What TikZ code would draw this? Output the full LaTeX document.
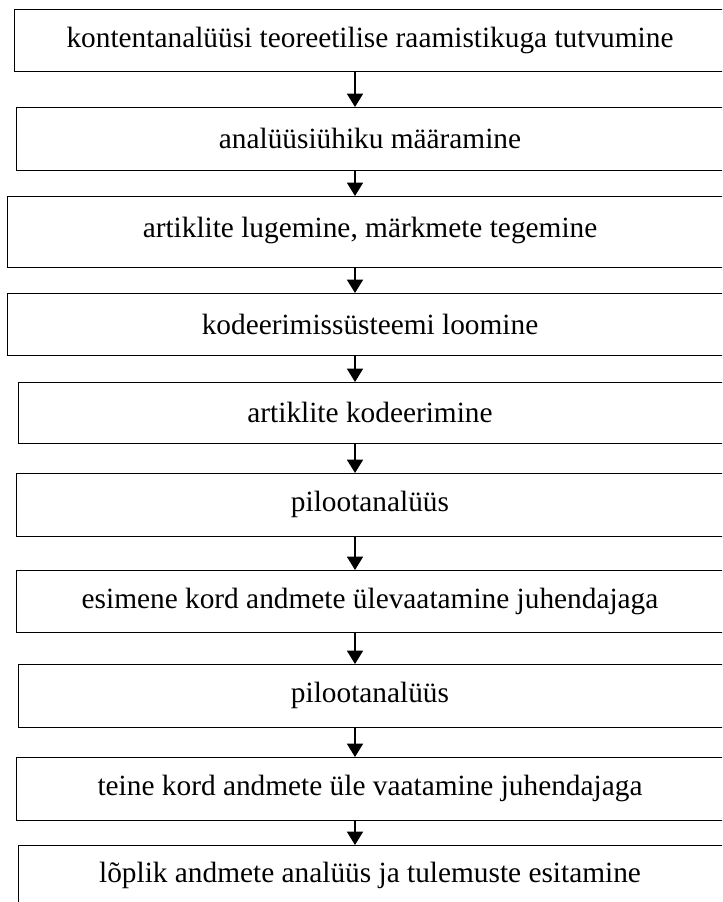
\documentclass[tikz,border=0pt]{standalone}
\usepackage{fontspec}
\setmainfont{Liberation Serif}
\usetikzlibrary{arrows.meta}

\tikzset{
  stage/.style={draw, line width=1.1pt, anchor=north west, minimum width=600pt, inner sep=0pt},
  stagetext/.style={font=\fontsize{22}{26}\selectfont, inner sep=0pt},
  flow/.style={line width=1.1pt, -{Triangle[width=12pt,length=10pt]}}
}

\begin{document}
\begin{tikzpicture}[x=0.75pt, y=-0.75pt]

\clip (0,0) rectangle (722,902);

\coordinate (ax) at (355,0);

%boxes
\node[stage, minimum height=46.5pt] (s1) at (14,9) {};
\node[stage, minimum height=47.25pt] (s2) at (16,107) {};
\node[stage, minimum height=53.25pt] (s3) at (7,196) {};
\node[stage, minimum height=46.5pt] (s4) at (7,293) {};
\node[stage, minimum height=45.75pt] (s5) at (18,382) {};
\node[stage, minimum height=47.25pt] (s6) at (16,473) {};
\node[stage, minimum height=46.5pt] (s7) at (16,570) {};
\node[stage, minimum height=47.25pt] (s8) at (18,664) {};
\node[stage, minimum height=47.25pt] (s9) at (16,757) {};
\node[stage, minimum height=52.5pt] (s10) at (18,845) {};

%texts
\node[stagetext] (t1) at (370,40) {kontentanalüüsi teoreetilise raamistikuga tutvumine};
\node[stagetext] (t2) at (370,138) {analüüsiühiku määramine};
\node[stagetext] (t3) at (370,230) {artiklite lugemine, märkmete tegemine};
\node[stagetext] (t4) at (370,324) {kodeerimissüsteemi loomine};
\node[stagetext] (t5) at (370,412) {artiklite kodeerimine};
\node[stagetext] (t6) at (370,504) {pilootanalüüs};
\node[stagetext] (t7) at (370,601) {esimene kord andmete ülevaatamine juhendajaga};
\node[stagetext] (t8) at (370,695) {pilootanalüüs};
\node[stagetext] (t9) at (370,788) {teine kord andmete üle vaatamine juhendajaga};
\node[stagetext] (t10) at (370,875) {lõplik andmete analüüs ja tulemuste esitamine};

%arrows
\foreach \a/\b in {s1/s2,s2/s3,s3/s4,s4/s5,s5/s6,s6/s7,s7/s8,s8/s9,s9/s10}
  \draw[flow] (\a.south -| ax) -- (\b.north -| ax);

\end{tikzpicture}
\end{document}
